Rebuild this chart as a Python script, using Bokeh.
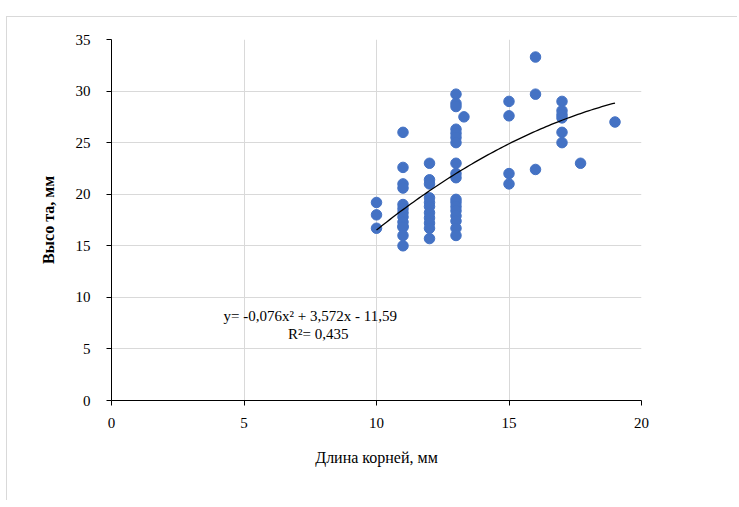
from bokeh.plotting import figure
from bokeh.models import Range1d, Label, FixedTicker
from bokeh.embed import file_html
from bokeh.resources import INLINE

# --- data ---
root_len = (
    [10, 10, 10]
    + [11] * 13
    + [12] * 11
    + [13] * 18
    + [13.3]
    + [15] * 4
    + [16] * 3
    + [17] * 6
    + [17.7, 19]
)
height = (
    [19.2, 18.0, 16.7]
    + [26.0, 22.6, 21.0, 20.6, 19.0, 18.6, 18.2, 17.8, 17.3, 16.9, 16.8, 16.0, 15.0]
    + [23.0, 21.4, 21.0, 19.65, 19.2, 18.8, 18.2, 17.7, 17.2, 16.7, 15.7]
    + [29.7, 28.8, 28.5, 26.3, 25.9, 25.5, 25.0, 23.0, 22.0, 21.6, 19.5, 19.2,
       18.8, 18.4, 17.9, 17.4, 16.7, 16.0]
    + [27.5]
    + [29.0, 27.6, 22.0, 21.0]
    + [33.3, 29.7, 22.4]
    + [29.0, 28.1, 27.7, 27.4, 26.0, 25.0]
    + [23.0, 27.0]
)
# trend line coefficients (as printed on the chart)
coef_a, coef_b, coef_c = -0.076, 3.572, -11.59
trend_x = [10 + i * 0.1 for i in range(91)]
trend_y = [coef_a * x * x + coef_b * x + coef_c for x in trend_x]

x_ticks = [0, 5, 10, 15, 20]
y_ticks = [0, 5, 10, 15, 20, 25, 30, 35]

FONT = "Liberation Serif"

p = figure(
    output_backend="svg", toolbar_location=None,
    frame_width=530, frame_height=361,
    min_border_left=104, min_border_right=96,
    min_border_top=22, min_border_bottom=100,
    x_range=Range1d(0, 20), y_range=Range1d(0, 35),
)
p.margin = (16, 0, 0, 6)
p.styles = {"border-left": "1px solid #d9d9d9", "border-top": "1px solid #d9d9d9"}
p.outline_line_color = None
p.background_fill_color = "white"
p.border_fill_color = "white"

p.scatter(root_len, height, size=10.5, color="#4472C4", line_color="#4472C4")
p.line(trend_x, trend_y, line_color="black", line_width=1.3)

p.xaxis.ticker = FixedTicker(ticks=x_ticks)
p.yaxis.ticker = FixedTicker(ticks=y_ticks)
for ax in (p.xaxis, p.yaxis):
    ax.axis_line_color = "black"
    ax.axis_line_width = 1
    ax.major_tick_line_color = "black"
    ax.major_tick_out = 5
    ax.major_tick_in = 0
    ax.minor_tick_line_color = None
    ax.major_label_text_font = FONT
    ax.major_label_text_font_size = "15px"
    ax.major_label_text_color = "black"
    ax.axis_label_text_font = FONT
    ax.axis_label_text_font_size = "16px"
    ax.axis_label_text_color = "black"

p.xaxis.major_label_standoff = 12
p.yaxis.major_label_standoff = 16
p.xaxis.axis_label = "Длина корней, мм"
p.xaxis.axis_label_text_font_style = "normal"
p.xaxis.axis_label_standoff = 18
p.yaxis.axis_label = "Высо та, мм"
p.yaxis.axis_label_text_font_style = "bold"
p.yaxis.axis_label_standoff = 16

p.xgrid.grid_line_color = "#d9d9d9"
p.ygrid.grid_line_color = "#d9d9d9"

p.add_layout(Label(x=4.23, y=8.24, text="y= -0,076x² + 3,572x - 11,59",
                   text_font=FONT, text_font_size="15px", text_color="black",
                   text_baseline="middle"))
p.add_layout(Label(x=7.8, y=6.4, text="R²= 0,435",
                   text_font=FONT, text_font_size="15px", text_color="black",
                   text_baseline="middle", text_align="center"))

open("out.html", "w").write(file_html(p, INLINE))
